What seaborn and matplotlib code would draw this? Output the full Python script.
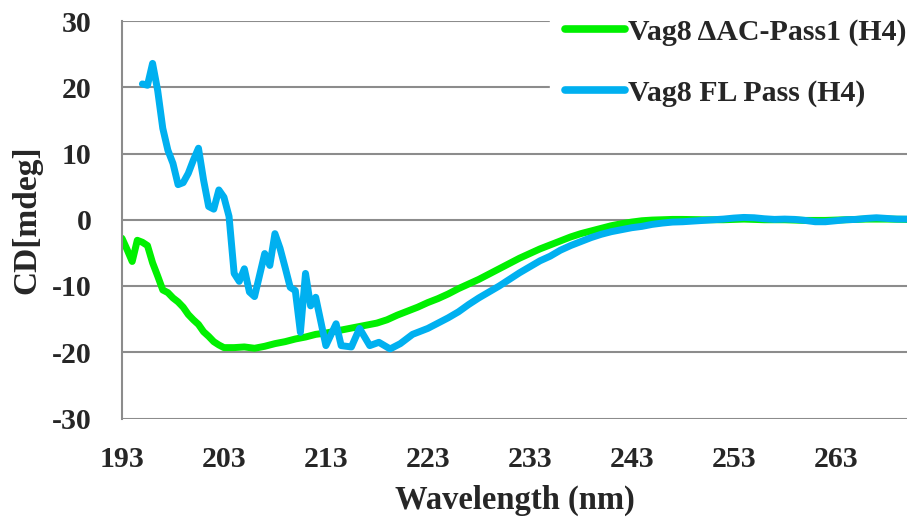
import matplotlib
matplotlib.use("Agg")
import matplotlib.pyplot as plt
import seaborn as sns
import pandas as pd

# ---- data ----
green_label = "Vag8 \u0394AC-Pass1 (H4)"
blue_label = "Vag8 FL Pass (H4)"

green_wl = [193.0, 193.5, 194.0, 194.5, 195.0, 195.5, 196.0, 196.5, 197.0, 197.5,
            198.0, 198.5, 199.0, 199.5, 200.0, 200.5, 201.0, 201.5, 202.0, 202.5,
            203.0, 204.0, 205.0, 206.0, 207.0, 208.0, 209.0, 210.0, 211.0, 212.0,
            213.0, 214.0, 215.0, 216.0, 217.0, 218.0, 219.0, 220.0, 221.0, 222.0,
            223.0, 224.0, 225.0, 226.0, 227.0, 228.0, 229.0, 230.0, 231.0, 232.0,
            233.0, 234.0, 235.0, 236.0, 237.0, 238.0, 239.0, 240.0, 241.0, 242.0,
            243.0, 244.0, 245.0, 246.0, 247.0, 248.0, 250.0, 252.0, 254.0, 256.0,
            258.0, 260.0, 262.0, 264.0, 266.0, 268.0, 270.0]
green_cd = [-2.8, -4.5, -6.3, -3.1, -3.4, -3.9, -6.5, -8.5, -10.6, -11.0,
            -11.8, -12.4, -13.2, -14.3, -15.1, -15.8, -16.9, -17.6, -18.4, -18.9,
            -19.3, -19.3, -19.2, -19.4, -19.1, -18.7, -18.4, -18.0, -17.7, -17.3,
            -17.1, -16.8, -16.5, -16.2, -15.9, -15.6, -15.1, -14.4, -13.8, -13.2,
            -12.5, -11.9, -11.2, -10.4, -9.7, -9.0, -8.2, -7.4, -6.6, -5.8,
            -5.1, -4.4, -3.8, -3.2, -2.6, -2.1, -1.7, -1.3, -0.9, -0.6,
            -0.35, -0.15, -0.05, 0.0, 0.05, 0.05, 0.0, 0.0, 0.1, 0.0,
            0.0, -0.1, -0.1, 0.0, 0.1, 0.1, 0.05]

blue_wl = [195.0, 195.5, 196.0, 196.5, 197.0, 197.5, 198.0, 198.5, 199.0, 199.5,
           200.0, 200.5, 201.0, 201.5, 202.0, 202.5, 203.0, 203.5, 204.0, 204.5,
           205.0, 205.5, 206.0, 207.0, 207.5, 208.0, 208.5, 209.0, 209.5, 210.0,
           210.5, 211.0, 211.5, 212.0, 213.0, 214.0, 214.5, 215.5, 216.3, 217.3,
           218.2, 219.3, 220.3, 221.5, 223.0, 224.0, 225.0, 226.0, 227.0, 228.0,
           229.0, 230.0, 231.0, 232.0, 233.0, 234.0, 235.0, 236.0, 237.0, 238.0,
           239.0, 240.0, 241.0, 242.0, 243.0, 244.0, 245.0, 246.0, 247.0, 248.0,
           249.0, 250.0, 251.0, 252.0, 253.0, 254.0, 255.0, 256.0, 257.0, 258.0,
           259.0, 260.0, 261.0, 262.0, 263.0, 264.0, 265.0, 266.0, 267.0, 268.0,
           269.0, 270.0]
blue_cd = [20.5, 20.3, 23.6, 19.5, 13.8, 10.5, 8.5, 5.3, 5.6, 7.0,
           9.0, 10.8, 6.0, 2.0, 1.6, 4.5, 3.4, 0.5, -8.1, -9.3,
           -7.4, -10.9, -11.6, -5.1, -6.9, -2.1, -4.3, -7.2, -10.2, -10.7,
           -17.0, -8.1, -13.0, -11.7, -19.0, -15.7, -19.0, -19.2, -16.4, -19.0,
           -18.5, -19.5, -18.7, -17.3, -16.4, -15.6, -14.8, -13.9, -12.8, -11.8,
           -10.9, -10.0, -9.0, -8.0, -7.1, -6.2, -5.5, -4.6, -3.9, -3.3,
           -2.7, -2.2, -1.8, -1.5, -1.2, -1.0, -0.7, -0.5, -0.35, -0.3,
           -0.2, -0.1, 0.0, 0.1, 0.25, 0.35, 0.3, 0.15, 0.05, 0.1,
           0.05, -0.1, -0.3, -0.3, -0.15, 0.0, 0.05, 0.2, 0.3, 0.2,
           0.1, 0.1]

x_ticks = [193, 203, 213, 223, 233, 243, 253, 263]
y_ticks = [-30, -20, -10, 0, 10, 20, 30]

df = pd.concat([
    pd.DataFrame({"Wavelength": green_wl, "CD": green_cd, "Sample": green_label}),
    pd.DataFrame({"Wavelength": blue_wl, "CD": blue_cd, "Sample": blue_label}),
], ignore_index=True)

# ---- style ----
sns.set_style("white")
plt.rcParams["font.family"] = ["Liberation Serif", "DejaVu Serif"]
plt.rcParams["font.weight"] = "bold"

fig = plt.figure(figsize=(9.07, 5.25), dpi=100)
ax = fig.add_axes([122 / 907, 1 - 418.5 / 525, 1 - 122 / 907, (418.5 - 21) / 525])

palette = {green_label: "#00F000", blue_label: "#00B0F0"}
sns.lineplot(data=df, x="Wavelength", y="CD", hue="Sample", palette=palette,
             linewidth=5, ax=ax, sort=False, estimator=None,
             solid_capstyle="round", solid_joinstyle="round", legend=True)

ax.set_xlim(193, 270)
ax.set_ylim(-30, 30)
ax.set_xticks(x_ticks)
ax.set_xticklabels([str(v) for v in x_ticks])
ax.set_yticks(y_ticks)
ax.set_yticklabels([str(v) for v in y_ticks])
ax.yaxis.grid(True, color="#8c8c8c", linewidth=1.5)
ax.xaxis.grid(False)
ax.set_axisbelow(True)
for s in ["top", "right", "bottom"]:
    ax.spines[s].set_visible(False)
ax.spines["left"].set_color("#8c8c8c")
ax.spines["left"].set_linewidth(1.5)
ax.tick_params(axis="both", length=0, labelsize=21.5)
ax.tick_params(axis="y", pad=22)
ax.tick_params(axis="x", pad=20)
for lab in ax.get_xticklabels() + ax.get_yticklabels():
    lab.set_fontweight("bold")

ax.set_xlabel("Wavelength (nm)", fontsize=23.5, fontweight="bold", labelpad=8)
ax.set_ylabel("CD[mdeg]", fontsize=24, fontweight="bold")
ax.yaxis.set_label_coords(-0.102, 0.5)

handles, labels = ax.get_legend_handles_labels()
leg = ax.legend(handles, labels, loc="upper left", bbox_to_anchor=(550 / 907, 0.993),
                bbox_transform=fig.transFigure, frameon=True, fontsize=21.5,
                handlelength=2.0, handletextpad=0.1, labelspacing=1.12,
                borderpad=0.5, borderaxespad=0)
leg.get_frame().set_facecolor("white")
leg.get_frame().set_edgecolor("white")
leg.get_frame().set_alpha(1.0)
for t in leg.get_texts():
    t.set_fontweight("bold")
for h in leg.legend_handles:
    h.set_linewidth(5.5)
    h.set_solid_capstyle("round")

fig.savefig("out.png", dpi=100)
